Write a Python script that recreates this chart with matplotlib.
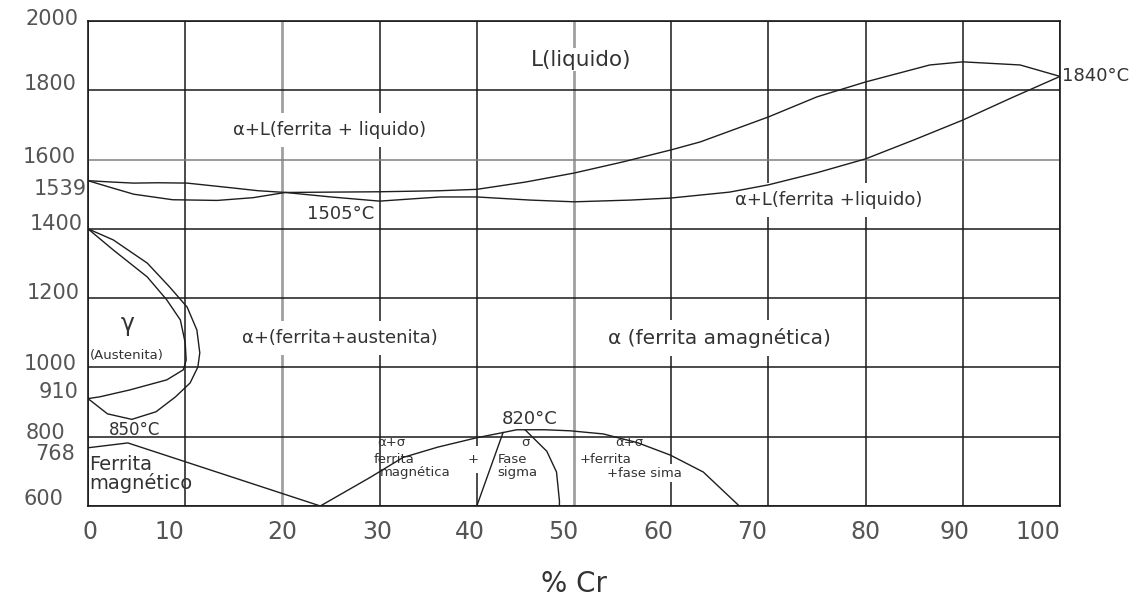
import matplotlib
matplotlib.use("Agg")
import matplotlib.pyplot as plt
from matplotlib.transforms import ScaledTranslation

plt.rcParams['font.family'] = ['DejaVu Sans']

# ---- axis ticks -------------------------------------------------------
x_ticks = [0, 10, 20, 30, 40, 50, 60, 70, 80, 90, 100]
x_tick_labels = ['0', '10', '20', '30', '40', '50', '60', '70', '80', '90', '100']
y_major = [600, 800, 1000, 1200, 1400, 1600, 1800, 2000]
y_major_labels = ['600', '800', '1000', '1200', '1400', '1600', '1800', '2000']
y_minor = [768, 910, 1539]
y_minor_labels = ['768', '910', '1539']

# ---- phase boundaries (% Cr, °C) ---------------------------------------
liquidus_cr = [0, 2.5, 4.7, 7.2, 10.2, 14.9, 17.5, 20.3, 25, 30, 36.2, 40, 45, 50,
               55, 60, 63, 70, 75, 80, 86.6, 90, 95.9, 100]
liquidus_t = [1539, 1535, 1532, 1533, 1532, 1518, 1510, 1505, 1506, 1507, 1510, 1514,
              1535, 1561, 1593, 1628, 1651, 1723, 1781, 1824, 1873, 1882, 1873, 1840]

solidus_cr = [0, 2.5, 4.7, 8.7, 13.3, 17, 20.3, 25, 30, 36.2, 40, 45.5, 50, 55.8,
              60, 66, 70, 75, 80, 85, 90, 95, 100]
solidus_t = [1539, 1518, 1500, 1484, 1482, 1490, 1505, 1492, 1480, 1492, 1492, 1483,
             1478, 1483, 1489, 1506, 1527, 1562, 1602, 1657, 1714, 1778, 1840]

gamma_outer_cr = [0, 2.6, 6.1, 8.4, 10.2, 11.2, 11.5, 11.3, 10.5, 9.0, 7.0, 4.5, 2.0, 0]
gamma_outer_t = [1400, 1368, 1301, 1232, 1174, 1108, 1042, 1001, 955, 915, 872, 850,
                 866, 910]

gamma_inner_cr = [0, 2.6, 6.1, 8.1, 9.5, 10.0, 10.1, 9.8, 8.1, 4.3, 1.2, 0]
gamma_inner_t = [1400, 1339, 1261, 1195, 1137, 1071, 1021, 993, 964, 935, 915, 910]

curie_cr = [0, 4.1, 23.9]
curie_t = [768, 782, 600]

sigma_dome_cr = [23.9, 29.0, 32.4, 36.0, 40.0, 42.7, 44.1, 47.0, 49.6, 53.0, 56.5,
                 59.9, 63.3, 67.0]
sigma_dome_t = [600, 682, 740, 770, 797, 812, 820, 820, 817, 808, 783, 747, 698, 600]

sigma_left_cr = [40.0, 42.7]
sigma_left_t = [600, 812]

sigma_right_cr = [45.0, 47.2, 48.2, 48.5, 48.5]
sigma_right_t = [819, 758, 698, 615, 600]

# ---- figure -------------------------------------------------------------
fig = plt.figure(figsize=(11.43, 6.08), dpi=100)
ax = fig.add_axes([0.077, 0.1678, 0.8504, 0.7977])
ax.set_xlim(0, 100)
ax.set_ylim(600, 2000)

ax.set_xticks(x_ticks)
ax.set_xticklabels(x_tick_labels)
ax.set_yticks(y_major)
ax.set_yticklabels(y_major_labels)
ax.set_yticks(y_minor, minor=True)
ax.set_yticklabels(y_minor_labels, minor=True)
ax.tick_params(axis='both', which='both', length=0, colors='#555555')
ax.tick_params(axis='x', labelsize=17, pad=10)
ax.tick_params(axis='y', which='both', labelsize=15, pad=7)


def nudge(label, dx_px, dy_px):
    """Shift a tick label by a few pixels (hand-lettered placement)."""
    label.set_transform(label.get_transform() +
                        ScaledTranslation(dx_px / 100, dy_px / 100, fig.dpi_scale_trans))


x_nudge = {0: 2, 10: -16, 30: -2, 40: -7, 50: -11, 60: -13, 70: -16, 90: -8, 100: -22}
for tick, val in zip(ax.xaxis.get_major_ticks(), x_ticks):
    if val in x_nudge:
        nudge(tick.label1, x_nudge[val], 0)

y_nudge = {2000: (0, 4), 1800: (-2, 8), 1600: (-2, 5), 1400: (4, 7), 1200: (1, 7),
           1000: (-2, 5), 800: (-13, 6), 600: (-15, 9)}
for tick, val in zip(ax.yaxis.get_major_ticks(), y_major):
    dx, dy = y_nudge.get(val, (0, 0))
    nudge(tick.label1, dx, dy)
y_minor_nudge = {768: (-3, -4), 910: (0, 9), 1539: (9, -6)}
for tick, val in zip(ax.yaxis.get_minor_ticks(), y_minor):
    dx, dy = y_minor_nudge[val]
    nudge(tick.label1, dx, dy)

ax.set_axisbelow(True)
ax.grid(True, which='major', color='#1a1a1a', linewidth=1.1)
for i, gl in enumerate(ax.get_xgridlines()):
    if x_ticks[i] in (20, 50):
        gl.set_color('#a0a0a0')
        gl.set_linewidth(2.0)
for i, gl in enumerate(ax.get_ygridlines()):
    if y_major[i] == 1600:
        gl.set_color('#808080')
for sp in ax.spines.values():
    sp.set_color('#1a1a1a')
    sp.set_linewidth(1.2)

line_kw = dict(color='#1e1e1e', linewidth=1.0, zorder=5)
ax.plot(liquidus_cr, liquidus_t, **line_kw)
ax.plot(solidus_cr, solidus_t, **line_kw)
ax.plot(gamma_outer_cr, gamma_outer_t, **line_kw)
ax.plot(gamma_inner_cr, gamma_inner_t, **line_kw)
ax.plot(curie_cr, curie_t, **line_kw)
ax.plot(sigma_dome_cr, sigma_dome_t, **line_kw)
ax.plot(sigma_left_cr, sigma_left_t, **line_kw)
ax.plot(sigma_right_cr, sigma_right_t, **line_kw)

# ---- region labels ----------------------------------------------------
txt = dict(color='#333333', zorder=4)
box = dict(facecolor='white', edgecolor='none', pad=6)

ax.text(50.7, 1888, 'L(liquido)', fontsize=15.5, ha='center', va='center',
        bbox=dict(facecolor='white', edgecolor='none', pad=1), **txt)
ax.text(24.9, 1685, 'α+L(ferrita + liquido)', fontsize=13, ha='center',
        va='center', bbox=box, **txt)
ax.text(76.2, 1483, 'α+L(ferrita +liquido)', fontsize=13, ha='center',
        va='center', bbox=box, **txt)
ax.text(26.0, 1443, '1505°C', fontsize=13, ha='center', va='center', **txt)
ax.text(100.2, 1840, '1840°C', fontsize=13, ha='left', va='center',
        clip_on=False, **txt)
ax.text(25.9, 1085, 'α+(ferrita+austenita)', fontsize=13, ha='center',
        va='center', bbox=box, **txt)
ax.text(65.0, 1085, 'α (ferrita amagnética)', fontsize=14.5, ha='center',
        va='center', bbox=box, **txt)

ax.text(4.1, 1125, 'γ', fontsize=17, ha='center', va='center', **txt)
ax.text(0.2, 1033, '(Austenita)', fontsize=9.5, ha='left', va='center', **txt)
ax.text(4.8, 846, '850°C', fontsize=12, ha='center', va='top', **txt)

ax.text(0.1, 692, 'Ferrita\nmagnético', fontsize=14, ha='left', va='center',
        linespacing=0.95, **txt)

ax.text(45.4, 826, '820°C', fontsize=13, ha='center', va='bottom', **txt)

small = dict(fontsize=9.5, color='#333333', zorder=4)
ax.text(29.8, 782, 'α+σ', ha='left', va='center', **small)
ax.text(29.4, 733, 'ferrita', ha='left', va='center', **small)
ax.text(30.0, 698, 'magnética', ha='left', va='center', **small)
ax.text(39.6, 733, '+', ha='center', va='center',
        bbox=dict(facecolor='white', edgecolor='none', pad=5), **small)
ax.text(45.0, 782, 'σ', ha='center', va='center', **small)
ax.text(42.2, 733, 'Fase', ha='left', va='center', **small)
ax.text(42.1, 698, 'sigma', ha='left', va='center', **small)
ax.text(55.7, 782, 'α+σ', ha='center', va='center', **small)
ax.text(50.6, 733, '+ferrita', ha='left', va='center', **small)
ax.text(53.4, 695, '+fase sima', ha='left', va='center',
        bbox=dict(facecolor='white', edgecolor='none', pad=2), **small)

ax.set_xlabel('% Cr', fontsize=20, color='#333333', labelpad=19)

fig.savefig('out.png', dpi=100, facecolor='white')
